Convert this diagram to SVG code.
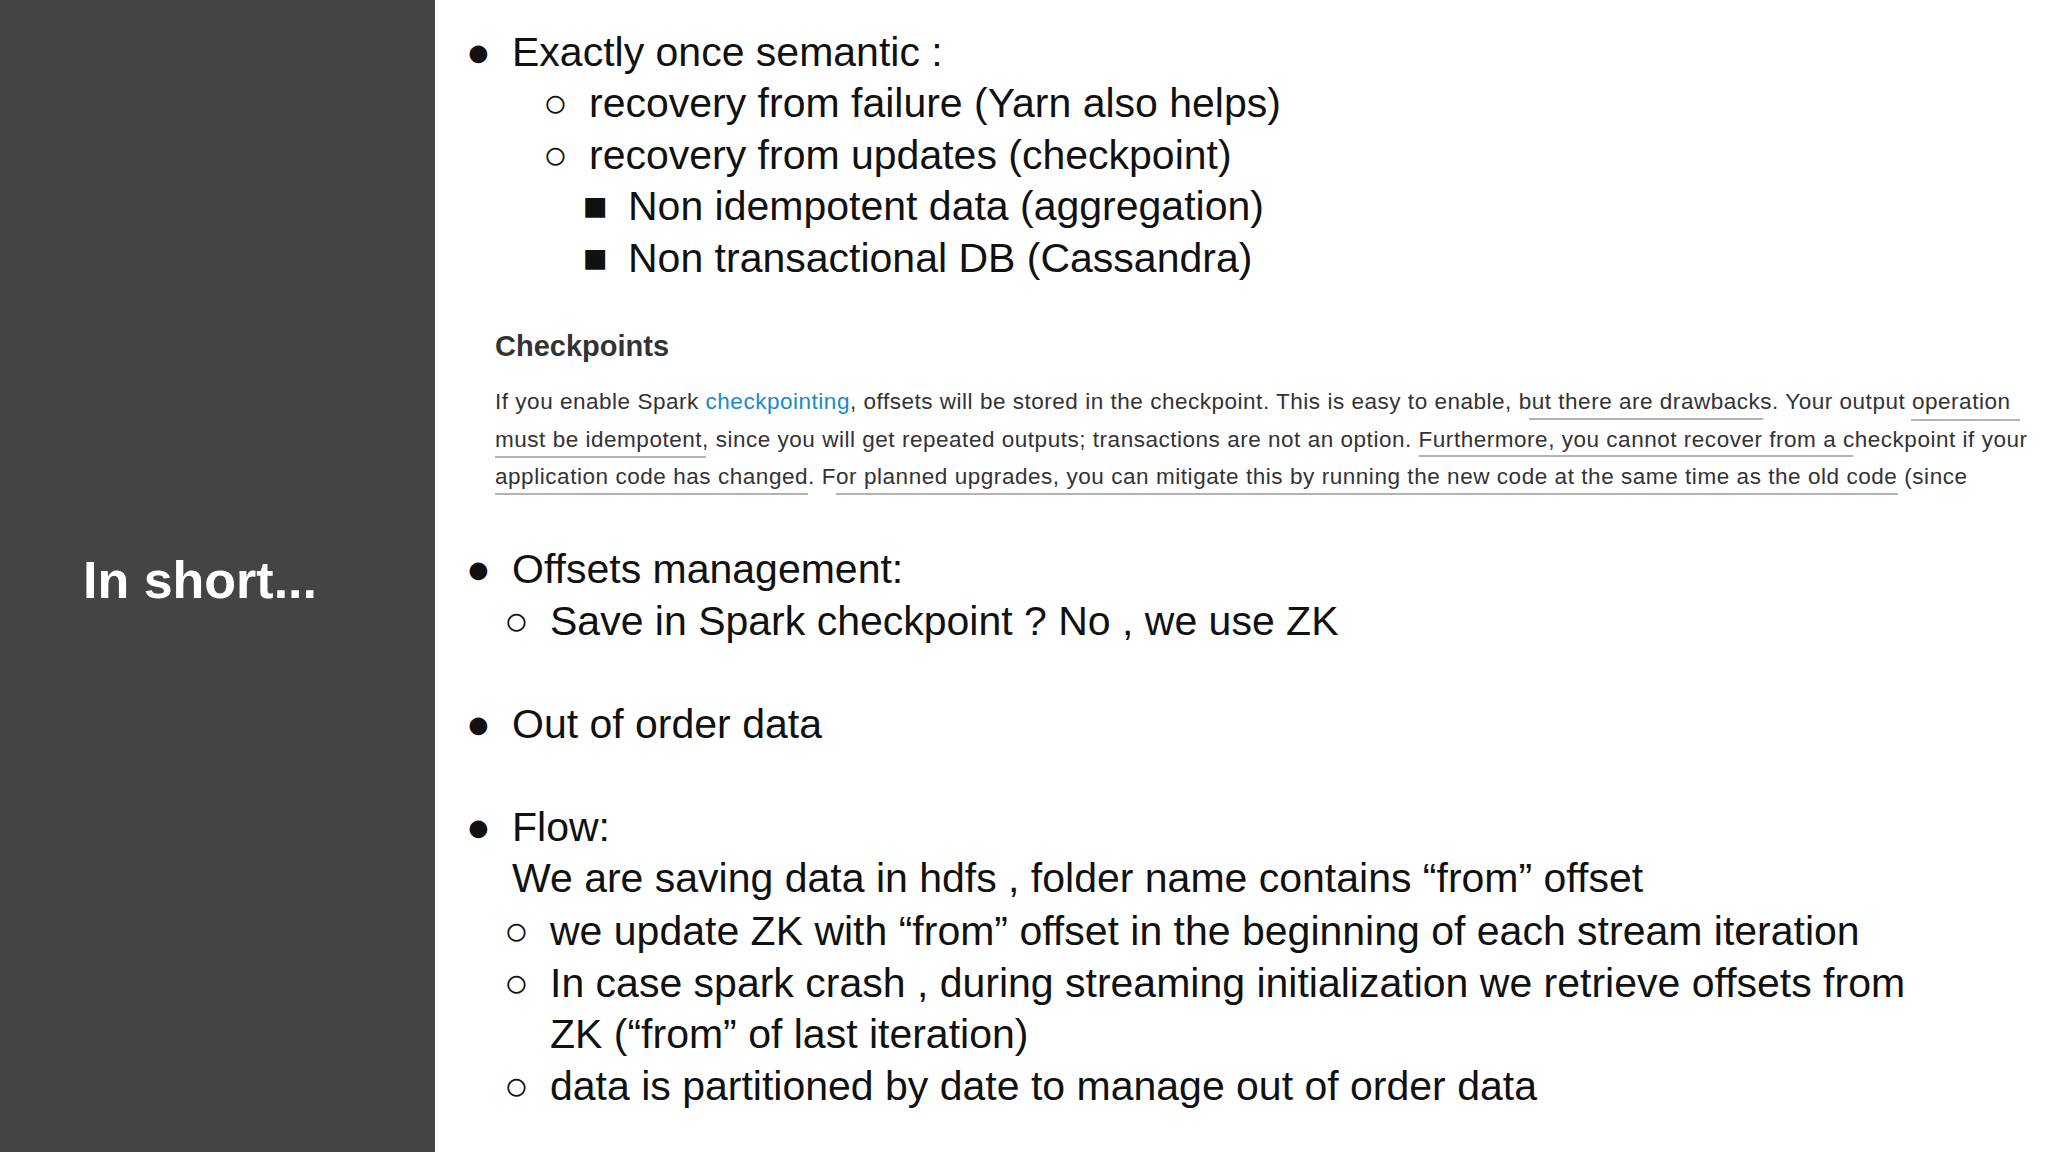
<svg xmlns="http://www.w3.org/2000/svg" width="2048" height="1152" viewBox="0 0 2048 1152">
<style>
.m{font-family:"Liberation Sans",Arial,sans-serif;font-size:41px;fill:#111}
.p{font-family:"Liberation Sans",Arial,sans-serif;font-size:22.5px;fill:#333}
.u{stroke:#999;stroke-width:1.5}
</style>
<rect width="2048" height="1152" fill="#fff"/>
<g id="sidebar">
<rect width="435" height="1152" fill="#444"/>
<text x="83" y="598" font-family="'Liberation Sans',Arial,sans-serif" font-weight="bold" font-size="52" fill="#fff">In short...</text>
</g>
<g id="sec1" class="m">
<text class="m" x="466" y="66">●</text><text class="m" x="512" y="66">Exactly once semantic :</text>
<text class="m" x="543" y="117">○</text><text class="m" x="589" y="117">recovery from failure (Yarn also helps)</text>
<text class="m" x="543" y="169">○</text><text class="m" x="589" y="169">recovery from updates (checkpoint)</text>
<text class="m" x="583" y="220">■</text><text class="m" x="628" y="220">Non idempotent data (aggregation)</text>
<text class="m" x="583" y="272">■</text><text class="m" x="628" y="272">Non transactional DB (Cassandra)</text>
</g>
<g id="checkpoints">
<text x="495" y="356" font-family="'Liberation Sans',Arial,sans-serif" font-weight="bold" font-size="29" fill="#333">Checkpoints</text>
<text class="p" x="495" y="409" textLength="1515">If you enable Spark <tspan fill="#1a8ac6">checkpointing</tspan>, offsets will be stored in the checkpoint. This is easy to enable, but there are drawbacks. Your output operation</text>
<text class="p" x="495" y="447" textLength="1532">must be idempotent, since you will get repeated outputs; transactions are not an option. Furthermore, you cannot recover from a checkpoint if your</text>
<text class="p" x="495" y="484" textLength="1472">application code has changed. For planned upgrades, you can mitigate this by running the new code at the same time as the old code (since</text>
<line class="u" x1="1529" y1="419" x2="1763" y2="419"/>
<line class="u" x1="1911" y1="420" x2="2020" y2="420"/>
<line class="u" x1="495" y1="457" x2="706" y2="457"/>
<line class="u" x1="1419" y1="456" x2="1853" y2="456"/>
<line class="u" x1="495" y1="494" x2="808" y2="494"/>
<line class="u" x1="836" y1="494" x2="1898" y2="494"/>
</g>
<g id="sec2">
<text class="m" x="466" y="583">●</text><text class="m" x="512" y="583">Offsets management:</text>
<text class="m" x="504" y="635">○</text><text class="m" x="550" y="635">Save in Spark checkpoint ? No , we use ZK</text>
</g>
<g id="sec3">
<text class="m" x="466" y="738">●</text><text class="m" x="512" y="738">Out of order data</text>
</g>
<g id="sec4">
<text class="m" x="466" y="841">●</text><text class="m" x="512" y="841">Flow:</text>
<text class="m" x="512" y="892">We are saving data in hdfs , folder name contains “from” offset</text>
<text class="m" x="504" y="945">○</text><text class="m" x="550" y="945">we update ZK with “from” offset in the beginning of each stream iteration</text>
<text class="m" x="504" y="997">○</text><text class="m" x="550" y="997">In case spark crash , during streaming initialization we retrieve offsets from</text>
<text class="m" x="550" y="1048">ZK (“from” of last iteration)</text>
<text class="m" x="504" y="1100">○</text><text class="m" x="550" y="1100">data is partitioned by date to manage out of order data</text>
</g>
</svg>
